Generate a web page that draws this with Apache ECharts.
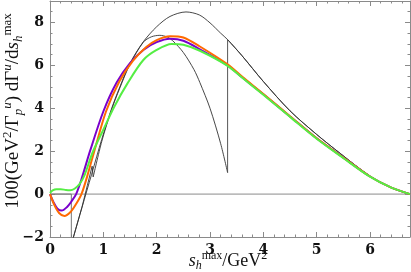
<!DOCTYPE html>
<html><head><meta charset="utf-8">
<script src="https://cdn.jsdelivr.net/npm/echarts@6/dist/echarts.min.js"></script>
<style>html,body{margin:0;padding:0;background:#fff}#c{width:411px;height:272px}</style>
</head><body><div id="c"></div>
<script>
// x ticks / y ticks
const xTicks = [0, 1, 2, 3, 4, 5, 6];
const yTicks = [-2, 0, 2, 4, 6, 8];
const xMax = 6.75, yMin = -2, yMax = 9;

// Black curve A (thin)
const blackA = [[0.42,-2.2],[0.44,-2.0],[0.6,-0.62],[0.78,0.92],[0.97,2.55],[1.15,3.95],[1.31,5.0],[1.5,6.1],[1.75,7.1],[2.0,7.8],[2.25,8.28],[2.55,8.49],[2.8,8.35],[3.0,7.98],[3.2,7.5],[3.33,7.2],[3.6,6.45],[4.0,5.25],[4.5,3.88],[5.0,2.78],[5.44,1.9],[6.0,0.84],[6.4,0.3],[6.75,0]];
// Black curve B pieces
const blackBLow = [[0,0],[0.4,0],[0.4,-2.4]];
const blackBKink = [[0.42,-2.2],[0.44,-2.0],[0.6,-0.6],[0.7,0.4],[0.79,1.3],[0.81,0.8]];
const blackBMid = [[0.81,0.8],[0.97,2.45],[1.15,3.9],[1.31,4.95],[1.5,6.05],[1.75,7.08],[1.9,7.33],[2.06,7.4],[2.2,7.32],[2.3,7.15],[2.5,6.6],[2.7,5.8],[2.81,5.2],[3.0,4.0],[3.2,2.35],[3.33,1.0]];
const blackBJump = [[3.33,1.0],[3.33,7.2]];
const blackBTail = [[3.33,7.2],[3.6,6.45],[4.0,5.25],[4.5,3.88],[5.0,2.78],[5.44,1.9],[6.0,0.84],[6.4,0.3],[6.75,0]];
// zero line
const zeroLine = [[0,0],[6.75,0]];

// Coloured curves
const purple = [[0,0],[0.07,-0.4],[0.14,-0.68],[0.22,-0.77],[0.32,-0.6],[0.4,-0.35],[0.49,0],[0.59,0.69],[0.75,2.0],[1.0,3.85],[1.25,5.2],[1.5,6.1],[1.75,6.72],[2.0,7.08],[2.25,7.24],[2.5,7.15],[2.81,6.75],[3.33,6.0],[3.6,5.45],[4.0,4.65],[4.5,3.62],[5.0,2.6],[5.5,1.7],[6.0,0.82],[6.4,0.3],[6.75,0]];
const orange = [[0,0],[0.08,-0.5],[0.17,-0.88],[0.27,-1.02],[0.38,-0.85],[0.48,-0.5],[0.59,0],[0.7,0.85],[0.83,2.0],[1.05,3.85],[1.3,5.25],[1.55,6.2],[1.8,6.85],[2.0,7.18],[2.25,7.36],[2.5,7.3],[2.81,6.88],[3.33,6.05],[3.6,5.48],[4.0,4.67],[4.5,3.63],[5.0,2.6],[5.5,1.7],[6.0,0.82],[6.4,0.3],[6.75,0]];
const green = [[0,0.05],[0.05,0.17],[0.12,0.23],[0.2,0.23],[0.3,0.19],[0.38,0.18],[0.46,0.25],[0.55,0.45],[0.65,0.9],[0.8,1.95],[1.0,3.0],[1.2,4.05],[1.45,5.15],[1.75,6.25],[2.0,6.72],[2.28,7.0],[2.5,6.96],[2.81,6.68],[3.33,5.98],[3.6,5.43],[4.0,4.63],[4.5,3.6],[5.0,2.58],[5.5,1.68],[6.0,0.81],[6.4,0.3],[6.75,0]];

const frameColor = '#8a8a8a';
const labelFont = {fontFamily:'DejaVu Serif', fontWeight:'bold', fontSize:14, color:'#111'};

function axisBase(extra){
  return Object.assign({
    type:'value',
    axisLine:{show:true, onZero:false, lineStyle:{color:frameColor, width:1}},
    axisTick:{show:true, inside:true, length:5, lineStyle:{color:frameColor}},
    splitLine:{show:false},
  }, extra);
}
function minusFmt(v){ return String(v).replace('-', '\u2212'); }

const chart = echarts.init(document.getElementById('c'), null, {renderer:'canvas'});
function line(data, color, width, smooth, z){
  return {type:'line', data, showSymbol:false, symbol:'none', smooth: smooth ? 0.3 : false,
    lineStyle:{color, width}, z: z||2, animation:false, xAxisIndex:0, yAxisIndex:0, clip:true};
}
const subSup = (size, lh) => ({
  n:{fontFamily:'Liberation Serif', fontSize:size, lineHeight:lh, verticalAlign:'middle', fill:'#111'},
  i:{fontFamily:'Liberation Serif', fontStyle:'italic', fontSize:size, lineHeight:lh, verticalAlign:'middle', fill:'#111'},
  sp:{fontFamily:'Liberation Serif', fontSize:Math.round(size*0.66), lineHeight:lh, verticalAlign:'top', fill:'#111'},
  spi:{fontFamily:'Liberation Serif', fontStyle:'italic', fontSize:Math.round(size*0.66), lineHeight:lh, verticalAlign:'top', fill:'#111'},
  sbi:{fontFamily:'Liberation Serif', fontStyle:'italic', fontSize:Math.round(size*0.66), lineHeight:lh, verticalAlign:'bottom', fill:'#111'}
});
chart.setOption({
  animation:false,
  grid:{left:50, right:1, top:1, bottom:35, containLabel:false},
  xAxis:[
    axisBase({min:0, max:xMax, interval:1, position:'bottom',
      minorTick:{show:true, splitNumber:5, length:2.5, lineStyle:{color:frameColor}},
      axisLabel:Object.assign({margin:6, showMaxLabel:false, formatter:v=>xTicks.includes(v)?minusFmt(v):''}, labelFont)}),
    axisBase({min:0, max:xMax, interval:1, position:'top',
      minorTick:{show:true, splitNumber:5, length:2.5, lineStyle:{color:frameColor}},
      axisLabel:{show:false}})
  ],
  yAxis:[
    axisBase({min:yMin, max:yMax, interval:2, position:'left',
      minorTick:{show:true, splitNumber:4, length:2.5, lineStyle:{color:frameColor}},
      axisLabel:Object.assign({margin:6, showMaxLabel:false, formatter:v=>yTicks.includes(v)?minusFmt(v):''}, labelFont)}),
    axisBase({min:yMin, max:yMax, interval:2, position:'right',
      minorTick:{show:true, splitNumber:4, length:2.5, lineStyle:{color:frameColor}},
      axisLabel:{show:false}})
  ],
  series:[
    line(zeroLine, '#8a8a8a', 1, false, 1),
    line(blackBLow, '#777', 1, false, 2),
    line(blackA, '#333', 0.9, true, 2),
    line(blackBKink, '#333', 0.9, false, 2),
    line(blackBMid, '#333', 0.9, true, 2),
    line(blackBJump, '#444', 0.9, false, 2),
    line(blackBTail, '#333', 0.9, true, 2),
    line(purple, '#7a00cc', 2, true, 3),
    line(orange, '#ff6a00', 2, true, 4),
    line(green, '#55ee44', 2, true, 5)
  ],
  graphic:[
    {type:'text', x:13, y:111, rotation:Math.PI/2, z:10,
     style:{text:'{n|100(GeV}{sp|2}{n|/\u0393}{sbi|p}{spi|u}{n|) d\u0393}{spi|u}{n|/d}{i|s}{sbi|h}{sp|max}',
       align:'center', verticalAlign:'middle', fill:'#111', rich:subSup(19, 24)}},
    {type:'text', x:228, y:261, z:10,
     style:{text:'{i|s}{sbi|h}{sp|max}{n|/GeV}{sp|2}', align:'center', verticalAlign:'middle', fill:'#111',
       rich:subSup(18, 22)}}
  ]
});
</script></body></html>
